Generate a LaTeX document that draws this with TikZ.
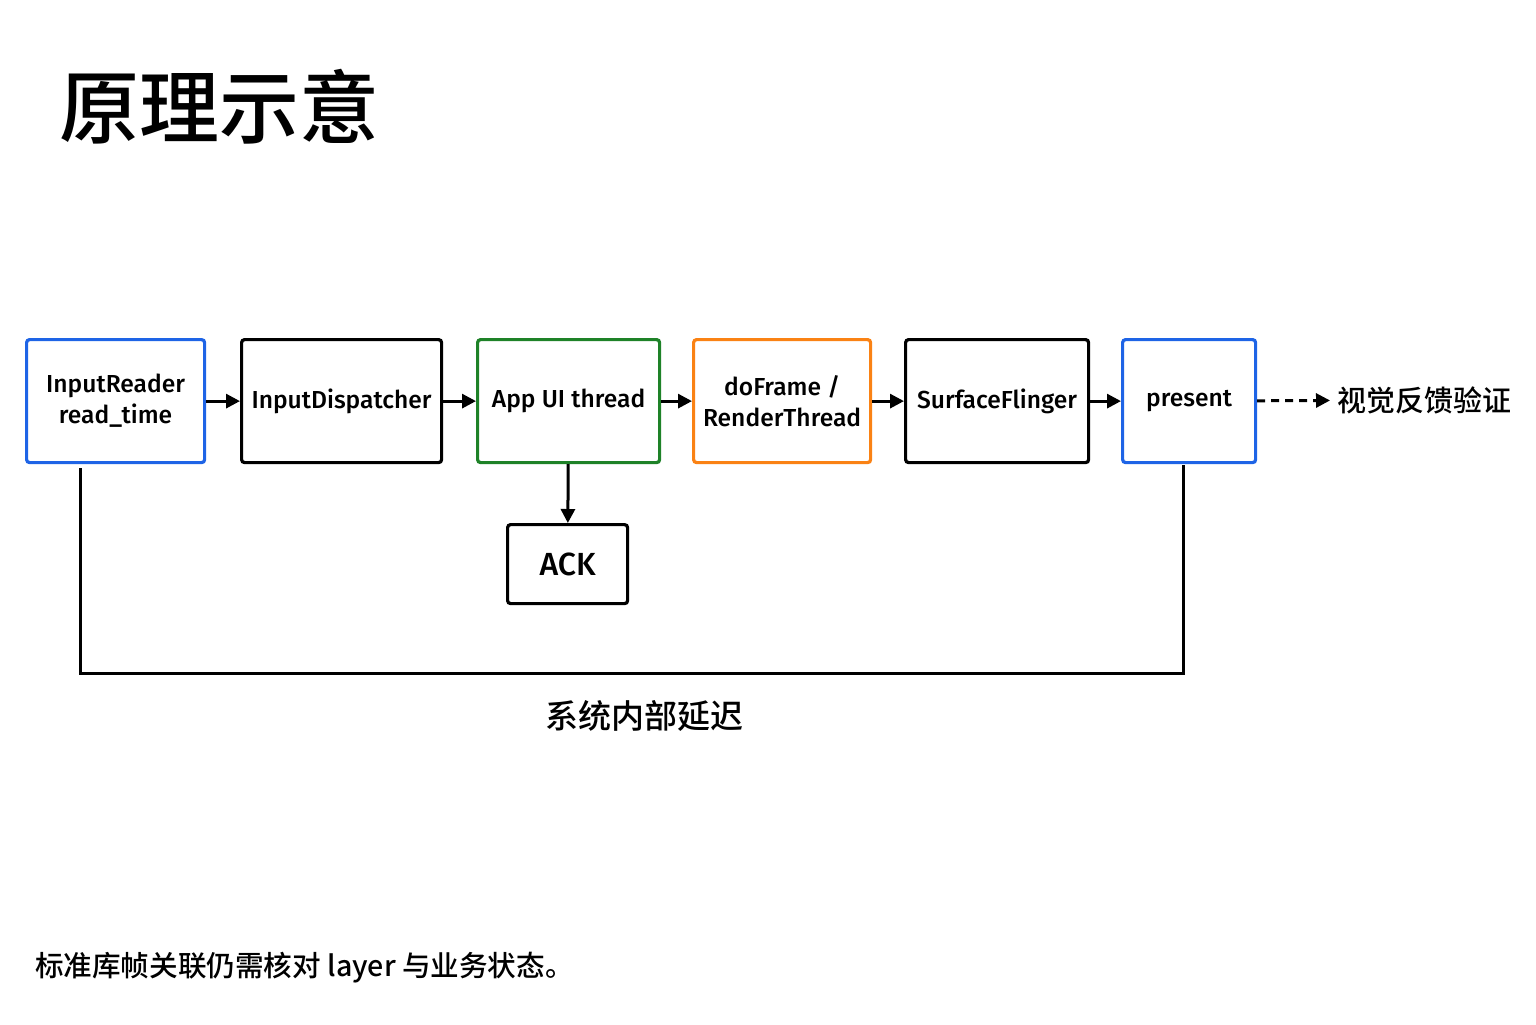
\documentclass[tikz,border=0pt]{standalone}
\usepackage{fontspec}
\setmainfont{Fira Sans}
\newfontfamily\cjk{Noto Sans CJK SC}
\newfontfamily\cjkm{Noto Sans CJK SC Medium}
\newfontfamily\firam{Fira Sans Medium}
\usetikzlibrary{arrows.meta}
\begin{document}
\begin{tikzpicture}[x=0.5pt,y=-0.5pt,
 box/.style={draw,line width=1.6pt,rounded corners=1.5pt,anchor=north west,inner sep=0pt,align=center,font=\firam\fontsize{12.3}{15.5}\selectfont},
 arr/.style={-{Triangle[length=7pt,width=7pt]},line width=1.5pt},
 blue/.style={draw={rgb,255:red,30;green,100;blue,230}},
 green/.style={draw={rgb,255:red,30;green,130;blue,40}},
 orange/.style={draw={rgb,255:red,250;green,130;blue,20}}]
\useasboundingbox (0,0) rectangle (1536,1024);
\node[anchor=west,font=\cjkm\fontsize{40}{44}\selectfont] (title) at (52,107) {原理示意};
\node[box,blue,minimum width=89pt,minimum height=61.5pt] (a) at (25,338) {InputReader\\read\_time};
\node[box,minimum width=100pt,minimum height=61.5pt] (b) at (240,338) {InputDispatcher};
\node[box,green,minimum width=91pt,minimum height=61.5pt] (c) at (476,338) {App UI thread};
\node[box,orange,minimum width=88.5pt,minimum height=61.5pt] (d) at (692,338) {doFrame /\\RenderThread};
\node[box,minimum width=91.5pt,minimum height=61.5pt] (e) at (904,338) {SurfaceFlinger};
\node[box,blue,minimum width=66.5pt,minimum height=61.5pt] (f) at (1121,338) {present};
\node[box,minimum width=60pt,minimum height=39.5pt,font=\firam\fontsize{16}{18}\selectfont] (ack) at (506,523) {ACK};
\node[anchor=west,font=\cjkm\fontsize{14.5}{16}\selectfont] (fb) at (1330,400) {视觉反馈验证};
\draw[arr] (a) -- (b); \draw[arr] (b) -- (c); \draw[arr] (c) -- (d);
\draw[arr] (d) -- (e); \draw[arr] (e) -- (f);
\draw[arr] (c) -- (ack);
\draw[arr,dash pattern=on 4pt off 3pt] (f) -- (fb);
\coordinate (p1) at (80,468); \coordinate (p2) at (1183,465);
\draw[line width=1.5pt] (p1) |- (1183,673) -- (p2);
\node[font=\cjkm\fontsize{16.5}{18}\selectfont] (lat) at (644,716) {系统内部延迟};
\node[anchor=west,font=\cjkm\fontsize{14.3}{16}\selectfont] (foot) at (28,968) {标准库帧关联仍需核对 layer 与业务状态。};
\end{tikzpicture}
\end{document}
